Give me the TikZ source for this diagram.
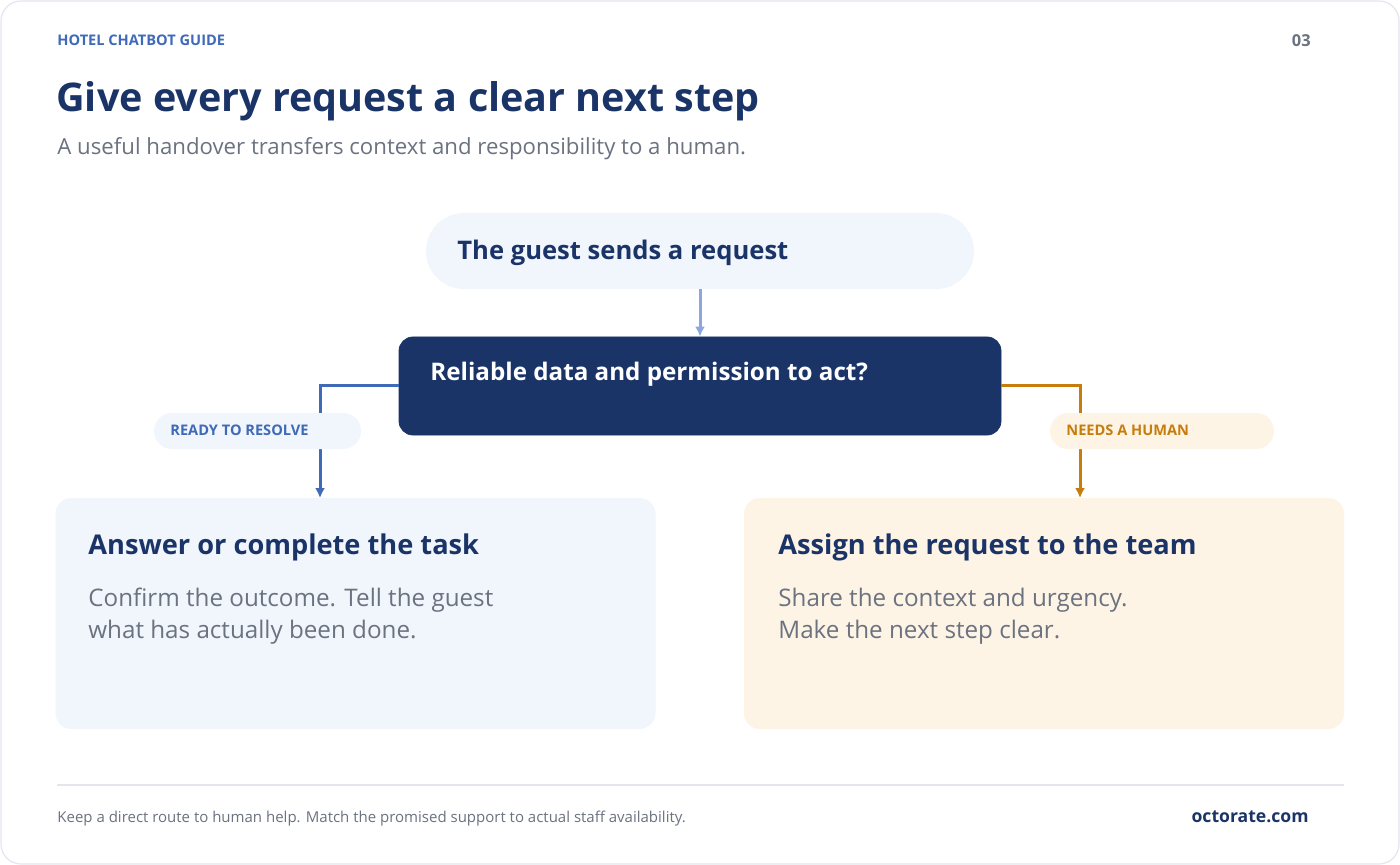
\documentclass[tikz,border=0pt]{standalone}
\usepackage{fontspec}
\setmainfont{Open Sans}
\usetikzlibrary{arrows.meta,calc}
\definecolor{navy}{HTML}{1B3468}
\definecolor{bluetone}{HTML}{3F6AB8}
\definecolor{paleblue}{HTML}{8EA6DD}
\definecolor{ambertone}{HTML}{C67D0C}
\definecolor{greytext}{HTML}{6B7280}
\definecolor{bluefill}{HTML}{F1F5FC}
\definecolor{amberfill}{HTML}{FEF4E6}
\definecolor{rulegrey}{HTML}{E3E6EE}
\tikzset{
  pillbox/.style={fill=bluefill, rounded corners=19pt, minimum width=274pt, minimum height=38pt, inner sep=0pt},
  checkbox/.style={fill=navy, draw=navy, rounded corners=7pt, minimum width=301pt, minimum height=49pt, inner sep=0pt},
  cardbox/.style={rounded corners=8pt, minimum width=300pt, minimum height=115.5pt, inner sep=0pt},
  tagbox/.style={rounded corners=9pt, minimum height=18pt, inner sep=0pt},
  tagtext/.style={anchor=base west, font=\fontsize{7.3pt}{9pt}\selectfont\bfseries, inner sep=0pt},
  cardtitle/.style={anchor=base west, text=navy, font=\fontsize{13.6pt}{16pt}\selectfont\bfseries, inner sep=0pt},
  cardbody/.style={anchor=base west, text=greytext, align=left, font=\fontsize{12.1pt}{16pt}\selectfont, inner sep=0pt},
  flow/.style={line width=1.5pt, -{Latex[length=5pt,width=5pt]}}
}
\begin{document}
\begin{tikzpicture}[x=0.5pt,y=-0.5pt]
\useasboundingbox (0,0) rectangle (1400,865);
\draw[rulegrey, line width=0.6pt, fill=white, rounded corners=10pt] (1,1) rectangle (1399,864);

% header
\node[anchor=base west, inner sep=0pt, text=bluetone, font=\fontsize{7.3pt}{9pt}\selectfont\bfseries] (kicker) at (57,46) {HOTEL CHATBOT GUIDE};
\node[anchor=base east, inner sep=0pt, text=greytext, font=\fontsize{8.2pt}{10pt}\selectfont\bfseries] (pageno) at (1311,47) {03};
\node[anchor=base west, inner sep=0pt, text=navy, font=\fontsize{19.75pt}{24pt}\selectfont\bfseries] (title) at (56,112) {Give every request a clear next step};
\node[anchor=base west, inner sep=0pt, text=greytext, font=\fontsize{11.1pt}{13pt}\selectfont] (subtitle) at (57,155) {A useful handover transfers context and responsibility to a human.};

% flow
\node[pillbox] (guest) at (700,251) {};
\node[anchor=base west, inner sep=0pt, text=navy, font=\fontsize{12.8pt}{15pt}\selectfont\bfseries] (guesttext) at (457,260) {The guest sends a request};
\node[checkbox] (check) at (700,386) {};
\node[anchor=base west, inner sep=0pt, text=white, font=\fontsize{12.1pt}{14pt}\selectfont\bfseries] (checktext) at (430,380) {Reliable data and permission to act?};

\node[cardbox, fill=bluefill] (resolve) at (355.5,613.5) {};
\node[cardbox, fill=amberfill] (assign) at (1044,613.5) {};
\coordinate (resolvein) at (320,498);
\coordinate (assignin) at (1080,498);

\draw[flow, paleblue] (guest) -- (check);
\draw[flow, bluetone] (check.west) -| (resolvein);
\draw[flow, ambertone] (check.east) -| (assignin);

\node[tagbox, fill=bluefill, minimum width=103.5pt] (readytag) at (257.5,431) {};
\node[tagtext, text=bluetone] (readytext) at (170,435) {READY TO RESOLVE};
\node[tagbox, fill=amberfill, minimum width=112pt] (humantag) at (1162,431) {};
\node[tagtext, text=ambertone] (humantext) at (1066,435) {NEEDS A HUMAN};

% outcome cards
\node[cardtitle] (resolvetitle) at (88,554) {Answer or complete the task};
\node[cardbody] (resolvebody) at (88,638) {Confirm the outcome. Tell the guest\\what has actually been done.};
\node[cardtitle] (assigntitle) at (778,554) {Assign the request to the team};
\node[cardbody] (assignbody) at (778,638) {Share the context and urgency.\\Make the next step clear.};

% footer
\draw[rulegrey, line width=1pt] (57,785) -- (1344,785);
\node[anchor=base west, inner sep=0pt, text=greytext, font=\fontsize{7.5pt}{9pt}\selectfont] (footnote) at (57,822) {Keep a direct route to human help. Match the promised support to actual staff availability.};
\node[anchor=base east, inner sep=0pt, text=navy, font=\fontsize{8.8pt}{10pt}\selectfont\bfseries] (site) at (1309,822) {octorate.com};
\end{tikzpicture}
\end{document}
